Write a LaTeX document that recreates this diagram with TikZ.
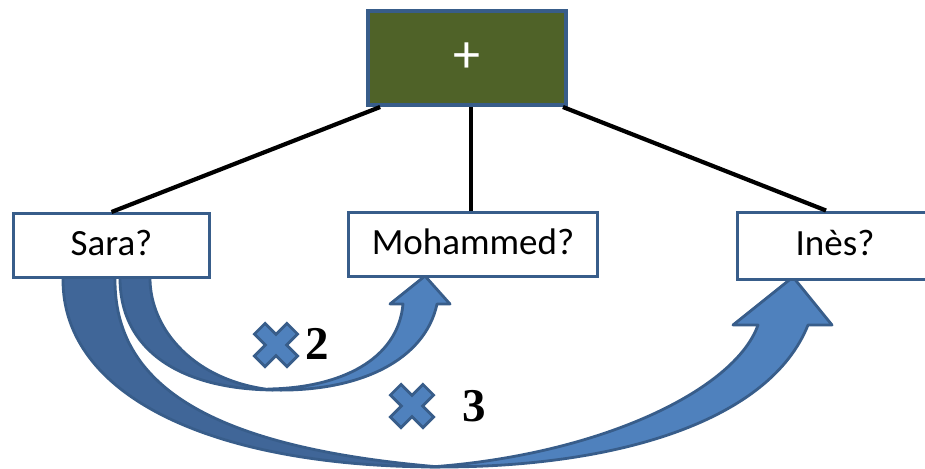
\documentclass[tikz,border=0pt]{standalone}
\usepackage{fontspec}
\setmainfont{Carlito}
\newfontfamily\digitfont{Liberation Serif}
\usetikzlibrary{calc,positioning}

\definecolor{boxblue}{RGB}{56,93,138}
\definecolor{olivebox}{RGB}{79,98,40}
\definecolor{arrowlight}{RGB}{79,129,189}
\definecolor{arrowdark}{RGB}{64,102,152}

\begin{document}
\begin{tikzpicture}[x=0.5pt, y=-0.5pt,
  namebox/.style={draw=boxblue, line width=1.5pt, fill=white, inner sep=0pt,
    minimum height=32pt, text height=1em, text depth=0pt,
    font=\fontsize{18.5}{20}\selectfont},
  link/.style={black, line width=2.1pt},
  band/.style={draw=boxblue, line width=1.4pt, line join=round},
  crossmark/.style={fill=arrowlight, draw=boxblue, line width=1.4pt, line join=miter},
  factor/.style={font=\digitfont\bfseries\fontsize{23.5}{24}\selectfont, inner sep=0pt}]
  % Define dimensions
  \def\a{7.5}
  \def\L{23}
  \fill[white] (0,0) rectangle (925,468);
  \useasboundingbox (0,0) rectangle (925,468);
  \clip (0,0) rectangle (925,468);

  % Long arrow: Sara -> Ines
  \filldraw[band, fill=arrowlight] (430,467) .. controls (600,455) and (735,390) .. (758,325)
     -- (733,325) -- (793,277) -- (832,325) -- (808,325)
     .. controls (770,420) and (620,467) .. (440,467) -- cycle;
  \filldraw[band, fill=arrowdark] (63,274) -- (63,280) .. controls (63,395) and (210,467) .. (440,467)
     .. controls (200,447) and (115,380) .. (115,280) -- (115,274) -- cycle;

  % Short arrow: Sara -> Mohammed
  \filldraw[band, fill=arrowlight] (268,389) .. controls (340,388) and (398,360) .. (403,304)
     -- (390,304) -- (425,276) -- (450,304) -- (437,304)
     .. controls (425,360) and (360,392) .. (273,390) -- cycle;
  \filldraw[band, fill=arrowdark] (120,274) -- (120,278) .. controls (120,350) and (180,389) .. (273,390)
     .. controls (195,382) and (150,330) .. (150,278) -- (150,274) -- cycle;

  % Nodes
  \node[draw=boxblue, line width=2pt, fill=olivebox, minimum width=99pt, minimum height=47pt,
        text=white, font=\fontsize{27}{27}\selectfont] (plus) at (467,58) {+};
  \node[namebox, minimum width=98pt] (sara) at (111.5,245.5) {Sara?};
  \node[namebox, minimum width=124.5pt] (moh) at (473,244) {Mohammed?};
  \node[namebox, minimum width=98pt, minimum height=33.5pt] (ines) at (835,245.5) {Inès?};

  % Links
  \coordinate (pl) at ($(plus.south west)!0.07!(plus.south east)$);
  \coordinate (pm) at ($(plus.south)+(4,0)$);
  \coordinate (pr) at ($(plus.south west)!0.975!(plus.south east)$);
  \draw[link] (pl) -- (sara.north);
  \draw[link] (pm) -- (pm |- moh.north);
  \draw[link] (pr) -- ($(ines.north)+(-9,0)$);

  % Factors
  \coordinate (crossA) at (276,345);
  \coordinate (crossB) at (412,406);
  \foreach \m in {crossA,crossB}
    \draw[crossmark, shift={(\m)}, rotate=45]
      (\a,\a) -- (\a,\L) -- (-\a,\L) -- (-\a,\a) -- (-\L,\a) -- (-\L,-\a)
      -- (-\a,-\a) -- (-\a,-\L) -- (\a,-\L) -- (\a,-\a) -- (\L,-\a) -- (\L,\a) -- cycle;
  \node[factor] (two) at (317,344) {2};
  \node[factor] (three) at (474,406) {3};
\end{tikzpicture}
\end{document}
